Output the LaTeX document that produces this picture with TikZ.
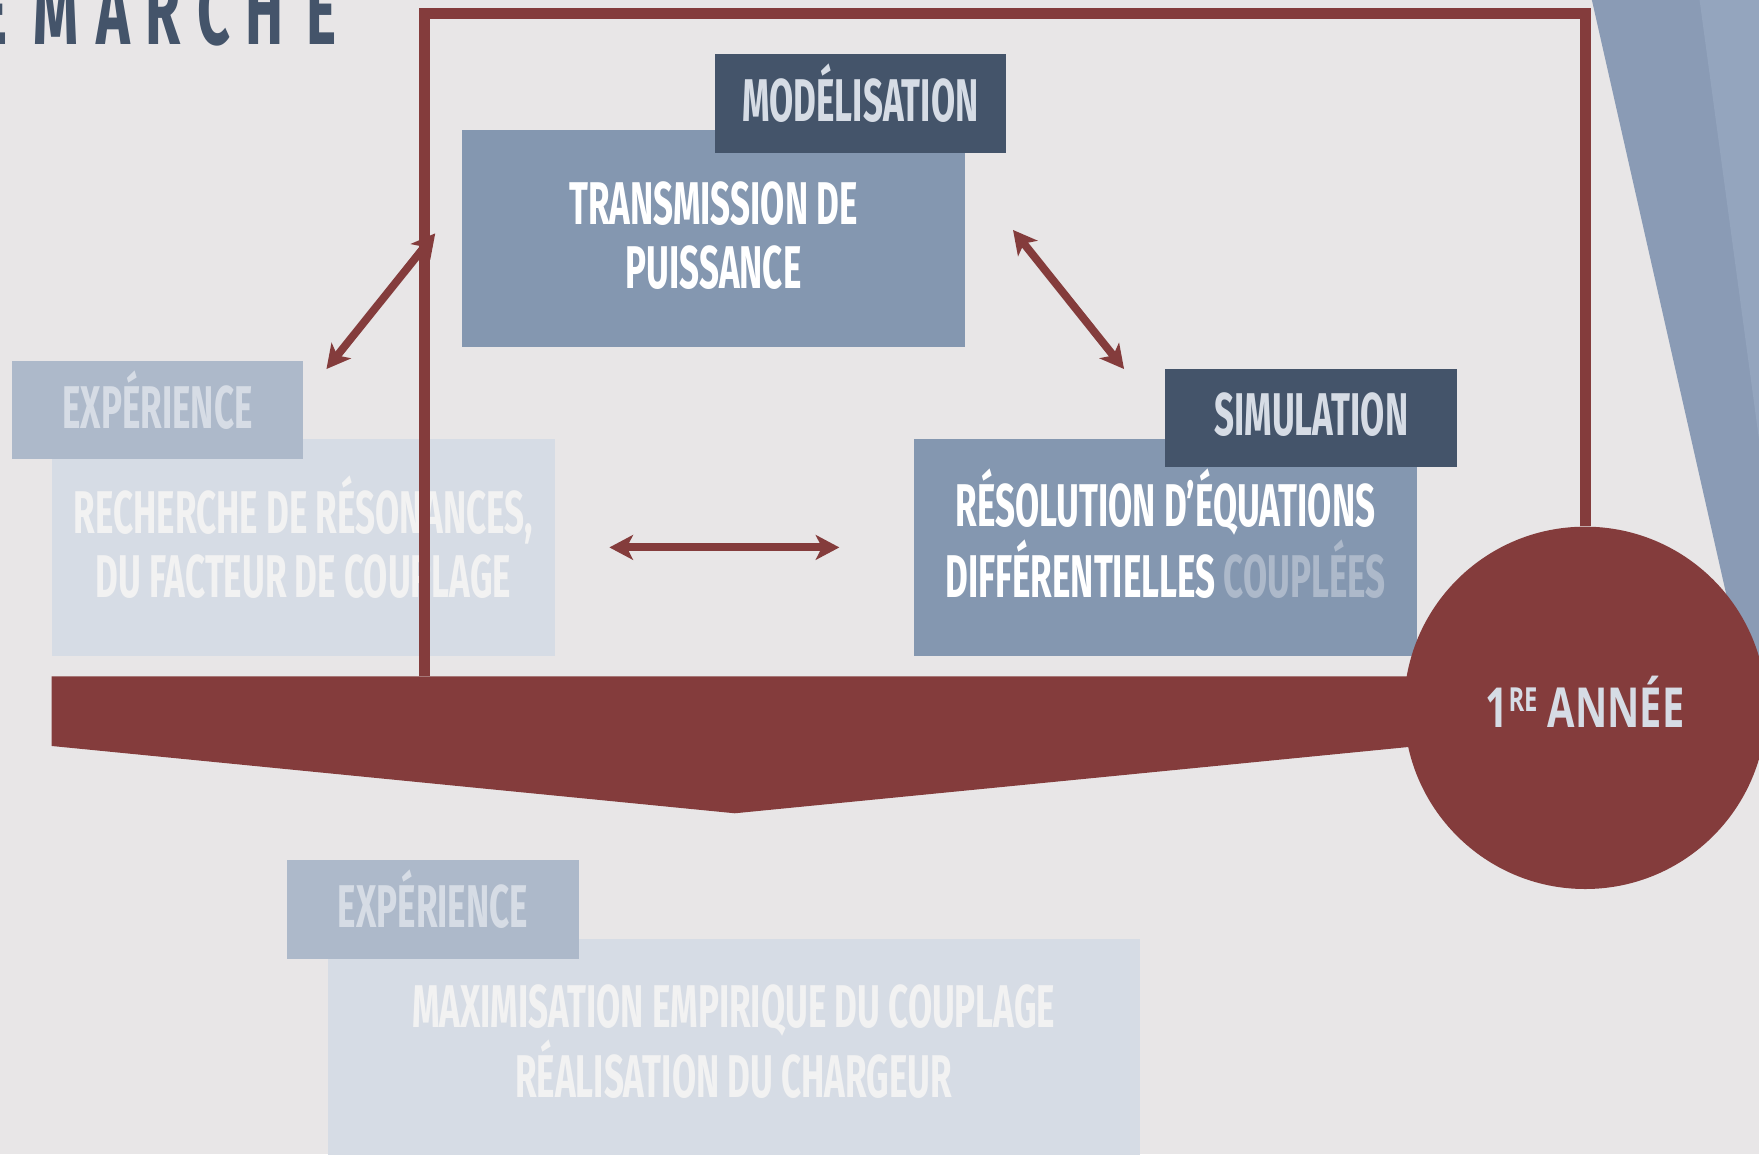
\documentclass[tikz,border=0pt]{standalone}
\usepackage{fontspec}
\setmainfont{Fira Sans}[FakeStretch=0.58]
\newfontfamily\yearfont{Open Sans}[FakeStretch=0.72]
\usetikzlibrary{positioning,arrows.meta}
\definecolor{bg}{HTML}{E8E6E7}
\definecolor{wine}{HTML}{843C3C}
\definecolor{darkblue}{HTML}{44546A}
\definecolor{midblue}{HTML}{8497B0}
\definecolor{softblue}{HTML}{ADB9CA}
\definecolor{paleblue}{HTML}{D6DCE5}
\definecolor{paletext}{HTML}{F2F2F2}
\definecolor{band}{HTML}{8A9BB5}
\definecolor{bandlight}{HTML}{94A5BE}
\newcommand\capsfont{\fontsize{15.3}{16.2}\selectfont\bfseries}
\tikzset{
  body/.style    = {rectangle, inner sep=0pt, align=center,
                    minimum width=4.48cm, minimum height=1.94cm,
                    text height=0.94cm, text depth=0.05cm,
                    font=\capsfont, text=white, fill=midblue},
  pale/.style    = {body, fill=paleblue, text=paletext},
  tag/.style     = {rectangle, inner sep=0pt, minimum width=2.6cm,
                    minimum height=0.88cm, text height=0.37cm, text depth=0.05cm,
                    font=\capsfont, fill=darkblue, text=paleblue},
  softtag/.style = {tag, fill=softblue},
  letter/.style  = {anchor=base, inner sep=0pt, text=darkblue,
                    font=\fontsize{25}{25}\selectfont\bfseries},
  arr/.style     = {{Stealth[length=2.1mm,width=2.2mm,inset=0.55mm]}-{Stealth[length=2.1mm,width=2.2mm,inset=0.55mm]},
                    line width=2pt, draw=wine},
  frame/.style   = {draw=wine, line width=2.8pt}
}
\begin{document}
\begin{tikzpicture}
  \useasboundingbox (0,0) rectangle (15.68,10.29);
  \clip (0,0) rectangle (15.68,10.29);
  \fill[bg] (0,0) rectangle (15.68,10.29);
  % bandes a droite
  \fill[band] (14.19,10.29) -- (15.68,10.29) -- (15.68,3.70) -- cycle;
  \fill[bandlight] (15.15,10.29) -- (15.68,10.29) -- (15.68,6.37) -- cycle;
  % titre
  \foreach \l/\x [count=\i] in {D/-0.62, É/-0.07, M/0.50, A/1.01, R/1.45, C/1.91, H/2.36, E/2.87}
    \node[letter] (t\i) at (\x,9.89) {\l};

  \node[body] (trans) at (6.36,8.165) {TRANSMISSION DE\\PUISSANCE};
  \node[tag,anchor=south east] (modtag) at ([xshift=0.37cm,yshift=-0.22cm]trans.north east) {MODÉLISATION};

  \node[pale] (rech) at (2.705,5.41) {RECHERCHE DE RÉSONANCES,\\DU FACTEUR DE COUPLAGE};
  \node[softtag,anchor=south west] (exptag) at ([xshift=-0.36cm,yshift=-0.20cm]rech.north west) {EXPÉRIENCE};

  \node[body,right=3.19cm of rech] (reso) {RÉSOLUTION D’ÉQUATIONS\\DIFFÉRENTIELLES \textcolor{softblue}{COUPLÉES}};
  \node[tag,anchor=south east] (simtag) at ([xshift=0.36cm,yshift=-0.27cm]reso.north east) {SIMULATION};

  \node[pale,minimum width=7.24cm] (maxi) at (6.54,0.95) {MAXIMISATION EMPIRIQUE DU COUPLAGE\\RÉALISATION DU CHARGEUR};
  \node[softtag,anchor=south west] (exptagb) at ([xshift=-0.36cm,yshift=-0.19cm]maxi.north west) {EXPÉRIENCE};

  % barre
  \fill[wine] (0.46,4.26) -- (12.8,4.26) -- (12.8,3.655) -- (6.55,3.04) -- (0.46,3.64) -- cycle;
  \node[circle,fill=wine,minimum size=3.23cm,inner sep=0pt,text=paleblue,
        text height=0.35cm,text depth=0pt,font=\yearfont\fontsize{14}{14}\selectfont\bfseries]
        (year) at (14.13,3.98) {1\raisebox{4pt}{\fontsize{8.4}{9}\selectfont RE} ANNÉE};

  \coordinate (fbot) at (3.78,4.26);
  \coordinate (ftop) at (3.78,10.17);
  \draw[frame] (fbot) -- (ftop) -| (year.north);

  \coordinate (a1) at (3.88,8.21);
  \coordinate (b1) at (2.91,7.00);
  \coordinate (a2) at (9.03,8.24);
  \coordinate (b2) at (10.02,7.00);
  \draw[arr] (a1) -- (b1);
  \draw[arr] (a2) -- (b2);
  \draw[arr,shorten <=0.48cm,shorten >=0.66cm] (rech) -- (reso);
\end{tikzpicture}
\end{document}
